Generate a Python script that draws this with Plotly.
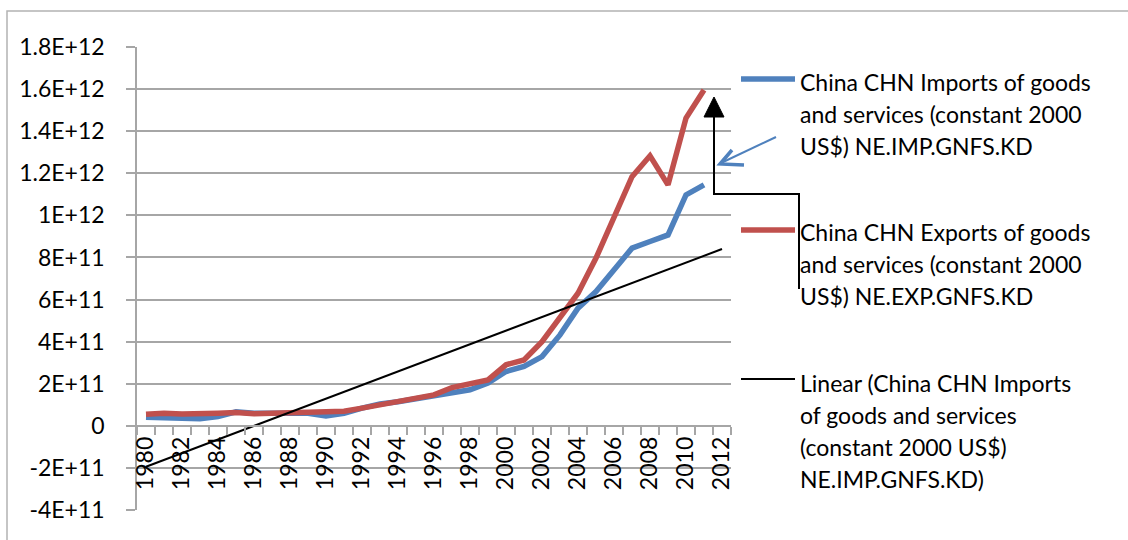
import numpy as np
import plotly.graph_objects as go

# ---- data (constant 2000 US$) ----
years = list(range(1980, 2012))
imports_bn = [41, 37, 32, 34, 44, 67, 60, 59, 62, 60, 47, 59, 84, 104, 114, 127,
              139, 158, 171, 203, 258, 282, 329, 432, 559, 638, 741, 844, 876, 907, 1097, 1145]
exports_bn = [55, 60, 56, 56, 60, 63, 57, 60, 63, 64, 65, 69, 84, 100, 117, 130,
              147, 182, 198, 218, 290, 313, 400, 510, 630, 797, 987, 1184, 1283, 1145, 1462, 1596]
imports = [v * 1e9 for v in imports_bn]
exports = [v * 1e9 for v in exports_bn]

x_label_years = list(range(1980, 2013, 2))
y_ticks = [v * 1e11 for v in range(-4, 19, 2)]

imports_label = "China CHN Imports of goods<br>and services (constant 2000<br>US$) NE.IMP.GNFS.KD"
exports_label = "China CHN Exports of goods<br>and services (constant 2000<br>US$) NE.EXP.GNFS.KD"
trend_label = "Linear (China CHN Imports<br>of goods and services<br>(constant 2000 US$)<br>NE.IMP.GNFS.KD)"

BLUE = "#4F81BD"
RED = "#C0504D"
GRID = "#a6a6a6"
FONT = "Lato"
FSIZE = 23

# linear least-squares trend of imports, carried one period forward
coef = np.polyfit(years, imports, 1)
trend_x = [years[0], years[-1] + 1]
trend_y = list(np.polyval(coef, trend_x))

y_min, y_max = y_ticks[0], y_ticks[-1]


def excel_general(v):
    return "0" if abs(v) < 1 else "{:G}".format(v)


# ---- figure geometry (pixels) ----
W, H = 1128, 540
PL, PR, PT, PB = 137, 731, 47, 510


def px(x):
    return (x - PL) / (PR - PL)


def py(y):
    return (PB - y) / (PB - PT)


fig = go.Figure()
fig.add_trace(go.Scatter(x=years, y=imports, mode="lines", name=imports_label.replace("<br>", " "),
                         line=dict(color=BLUE, width=5.5), showlegend=False))
fig.add_trace(go.Scatter(x=years, y=exports, mode="lines", name=exports_label.replace("<br>", " "),
                         line=dict(color=RED, width=5.5), showlegend=False))
fig.add_trace(go.Scatter(x=trend_x, y=trend_y, mode="lines", name=trend_label.replace("<br>", " "),
                         line=dict(color="black", width=2), showlegend=False))

shapes = []
annotations = []

# legend: sample line + wrapped text for each series
legend_items = [
    (BLUE, 5.5, 79, 82, imports_label),
    (RED, 5.5, 230, 232, exports_label),
    ("black", 2, 379, 383, trend_label),
]
for color, width, sample_y, text_y, label in legend_items:
    shapes.append(dict(type="line", xref="paper", yref="paper",
                       x0=px(741), x1=px(795), y0=py(sample_y), y1=py(sample_y),
                       line=dict(color=color, width=width)))
    for k, line_text in enumerate(label.split("<br>")):
        annotations.append(dict(xref="paper", yref="paper", x=px(798), y=py(text_y + 32 * k),
                                text=line_text, showarrow=False, xanchor="left", yanchor="middle",
                                font=dict(family=FONT, size=FSIZE, color="black")))

# black elbow arrow pointing up to the exports series end
shapes.append(dict(type="path", xref="paper", yref="paper",
                   path="M{},{} L{},{} L{},{} L{},{}".format(px(799), py(289), px(799), py(194),
                                                             px(714), py(194), px(714), py(115)),
                   line=dict(color="black", width=2)))
shapes.append(dict(type="path", xref="paper", yref="paper",
                   path="M{},{} L{},{} L{},{} Z".format(px(704), py(117), px(714), py(97),
                                                       px(724), py(117)),
                   fillcolor="black", line=dict(color="black", width=1)))

# thin blue arrow pointing at the imports series
shapes.append(dict(type="line", xref="paper", yref="paper",
                   x0=px(776), y0=py(137), x1=px(721), y1=py(163),
                   line=dict(color=BLUE, width=2)))
shapes.append(dict(type="path", xref="paper", yref="paper",
                   path="M{},{} L{},{} L{},{}".format(px(732), py(150), px(720), py(164),
                                                     px(744), py(165)),
                   line=dict(color=BLUE, width=3.5)))

# chart frame
shapes.append(dict(type="rect", xref="paper", yref="paper",
                   x0=px(7), x1=px(1135), y0=py(11), y1=py(548),
                   line=dict(color="#b3b3b3", width=1.5), fillcolor="rgba(0,0,0,0)"))

fig.update_layout(
    width=W, height=H,
    margin=dict(l=PL, r=W - PR, t=PT, b=H - PB, autoexpand=False),
    paper_bgcolor="white", plot_bgcolor="white",
    font=dict(family=FONT, size=FSIZE, color="black"),
    shapes=shapes, annotations=annotations,
    xaxis=dict(
        type="linear", range=[years[0] - 0.5, years[-1] + 1.5],
        tickvals=x_label_years, ticktext=[str(y) for y in x_label_years],
        tickangle=-90, ticks="", showgrid=False, zeroline=False,
        showline=True, linecolor=GRID, linewidth=1.5,
        anchor="free", position=(0 - y_min) / (y_max - y_min),
        ticklabelstandoff=1,
        tickfont=dict(family=FONT, size=FSIZE, color="black"),
        minor=dict(ticks="outside", ticklen=8, tickcolor=GRID, tickwidth=1.5,
                   tick0=years[0] - 0.5, dtick=1, showgrid=False),
    ),
    yaxis=dict(
        range=[y_min, y_max], tickvals=y_ticks, ticktext=[excel_general(v) for v in y_ticks],
        ticks="outside", ticklen=9, tickcolor=GRID, tickwidth=1.5,
        showgrid=True, gridcolor=GRID, gridwidth=1.5, zeroline=False,
        showline=True, linecolor=GRID, linewidth=1.5,
        ticklabelstandoff=17,
        tickfont=dict(family=FONT, size=FSIZE, color="black"),
    ),
)

fig.write_html("out.html")
